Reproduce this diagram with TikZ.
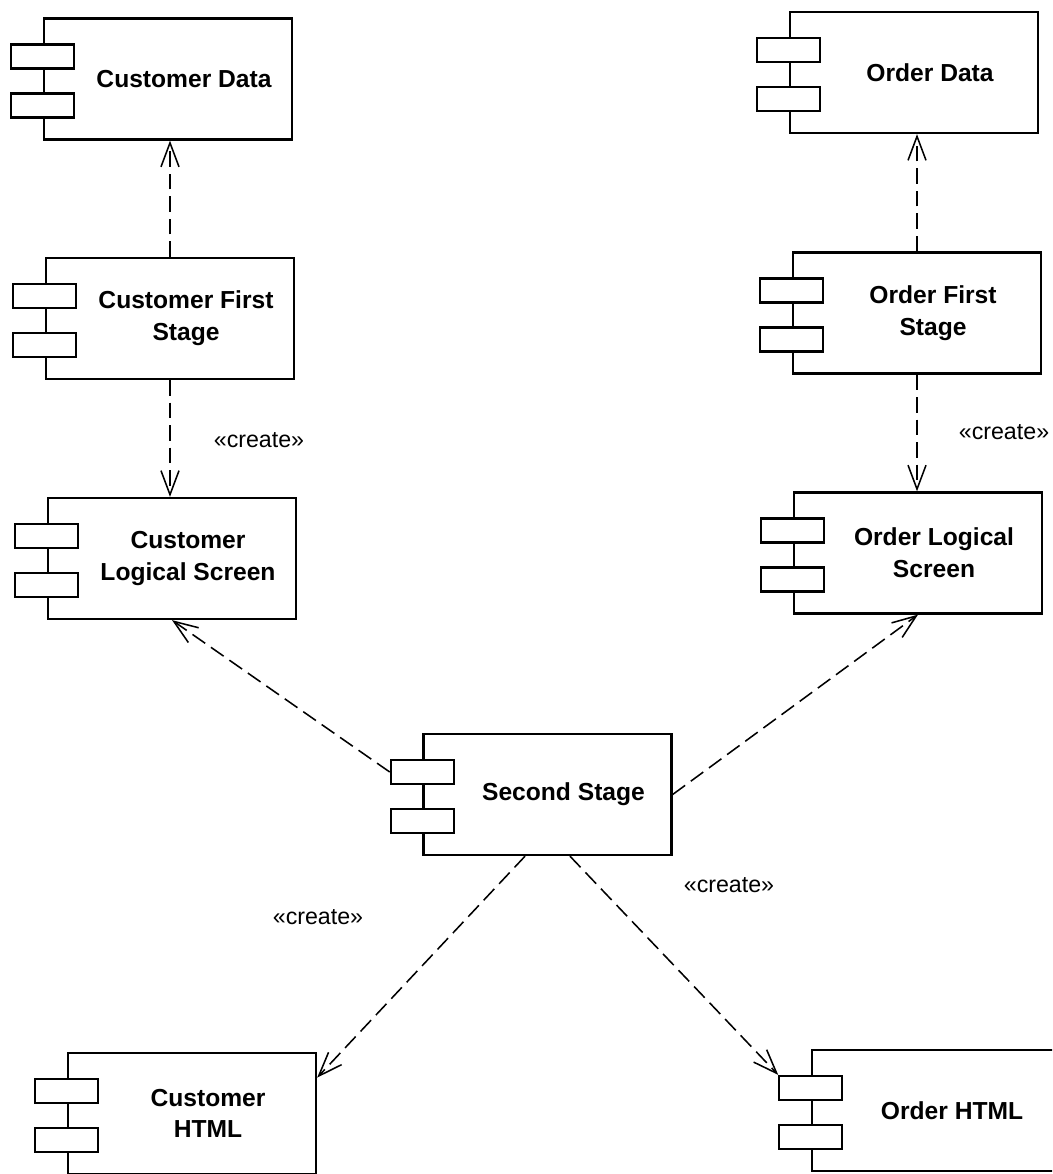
\documentclass[tikz,border=0pt]{standalone}
\usepackage{fontspec}
\setmainfont{Liberation Sans}
\usetikzlibrary{arrows.meta}
\def\component(#1)(#2)#3{%
	\node[compbox] (#1) at (#2) {};
	\node[compname] (#1-name) at ([xshift=0.4cm]#1.center) {#3};
	\node[compport] (#1-p1) at ([yshift=0.5625cm]#1.west) {};
	\node[compport] (#1-p2) at ([yshift=-0.6625cm]#1.west) {};
}

\begin{document}
\begin{tikzpicture}[x=0.025cm, y=-0.025cm,
		compbox/.style={draw, line width=1.6pt, minimum width=6.2cm, minimum height=3.025cm, inner sep=0pt},
		compport/.style={draw, fill=white, line width=1.6pt, minimum width=1.575cm, minimum height=0.6cm, inner sep=0pt},
		compname/.style={font=\fontsize{17.5}{22.5}\selectfont\bfseries, align=center},
		stereo/.style={font=\fontsize{16.5}{20}\selectfont},
		dep/.style={line width=1.1pt, dash pattern=on 11pt off 5pt, -{Straight Barb[length=0.6cm,width=0.45cm]}}]
			%%%%% START %%%%%
			\useasboundingbox (0,0) rectangle (1052,1174);
			\clip (0,0) rectangle (1052,1174);
			
			\component(cd)(168,79){Customer Data}
			\component(cfs)(170,318.5){Customer First\\Stage}
			\component(cls)(172,558.5){Customer\\Logical Screen}
			
			\component(od)(914,72.5){Order Data}
			\component(ofs)(917,313){Order First\\Stage}
			\component(ols)(918,553){Order Logical\\Screen}
			
			\component(ss)(547.5,794.5){Second Stage}
			
			\component(ch)(192,1113.5){Customer\\HTML}
			\component(oh)(936,1110.5){Order HTML}
			
			\draw[dep] (cfs.north) -- (cfs.north |- cd.south);
			\draw[dep] (cfs.south) -- (cfs.south |- cls.north);
			\draw[dep] (ofs.north) -- (ofs.north |- od.south);
			\draw[dep] (ofs.south) -- (ofs.south |- ols.north);
			
			\draw[dep] (ss-p1.west) -- (cls.south);
			\draw[dep] (ss.east) -- (ols.south);
			\draw[dep] (ss.250) -- (ch.16);
			\draw[dep] (ss.290) -- (oh-p1.north west);
			
			\node[stereo] (cr1) at (259,440) {«create»};
			\node[stereo] (cr2) at (1004,432) {«create»};
			\node[stereo] (cr3) at (318,917) {«create»};
			\node[stereo] (cr4) at (729,885) {«create»};
			%%%%% END %%%%%
\end{tikzpicture}
\end{document}
